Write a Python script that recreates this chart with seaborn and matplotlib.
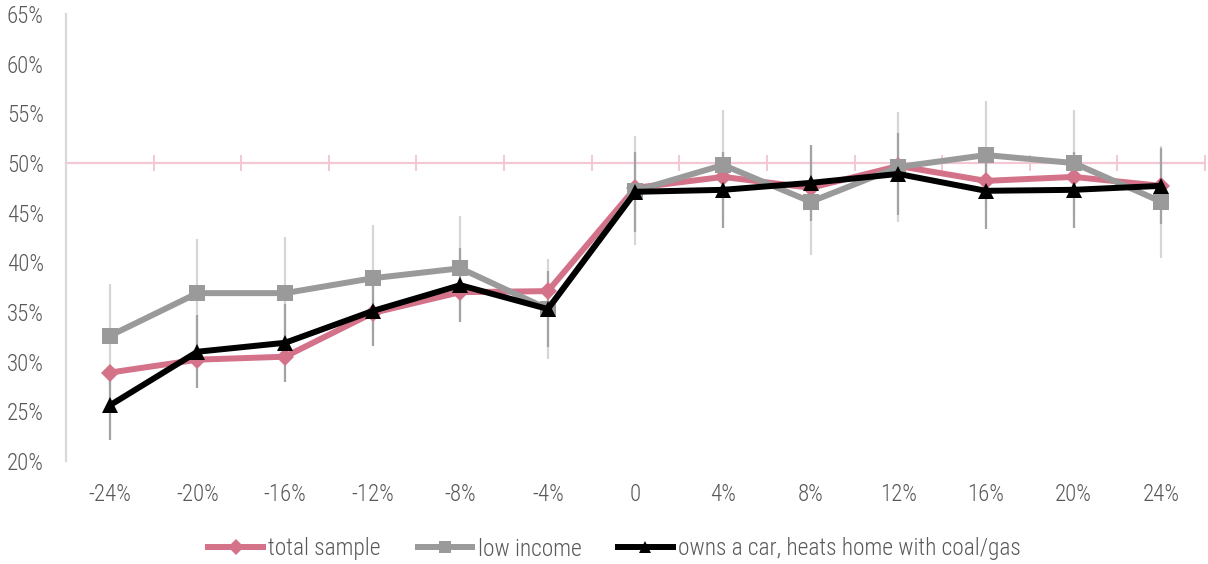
import numpy as np
import pandas as pd
import matplotlib
matplotlib.use("Agg")
import matplotlib.pyplot as plt
from matplotlib.lines import Line2D
from matplotlib.ticker import FixedLocator, FuncFormatter
import seaborn as sns

# ---- data -------------------------------------------------------------
x_labels = ['-24%', '-20%', '-16%', '-12%', '-8%', '-4%', '0',
            '4%', '8%', '12%', '16%', '20%', '24%']

total_sample = [28.9, 30.2, 30.5, 34.9, 37.0, 37.1, 47.5,
                48.6, 47.5, 49.7, 48.2, 48.6, 47.7]
low_income = [32.6, 36.9, 36.9, 38.4, 39.4, 35.3, 47.2,
              49.8, 46.1, 49.6, 50.8, 50.0, 46.1]
car_coal_gas = [25.6, 31.0, 31.9, 35.1, 37.7, 35.3, 47.1,
                47.3, 48.0, 48.9, 47.2, 47.3, 47.7]

low_income_err = [5.2, 5.4, 5.7, 5.4, 5.3, 5.05, 5.5,
                  5.5, 5.4, 5.5, 5.4, 5.3, 5.65]
car_coal_gas_err = [3.5, 3.7, 3.9, 3.5, 3.75, 3.8, 4.0,
                    3.8, 3.8, 4.1, 3.8, 3.8, 3.8]

series_names = ['total sample', 'low income',
                'owns a car, heats home with coal/gas']

# ---- style ------------------------------------------------------------
sns.set_style('white')
plt.rcParams['font.family'] = ['Roboto Condensed', 'Liberation Sans Narrow',
                               'Roboto', 'DejaVu Sans']
plt.rcParams['font.weight'] = 'light'
TEXT = '#595959'
PINK = '#d4728a'
GREY = '#9a9a9a'
BLACK = '#000000'
AXIS_PINK = '#f3c8d2'
AXIS_GREY = '#d9d9d9'

pos = np.arange(len(x_labels))
df = pd.DataFrame({
    'pos': np.tile(pos, 3),
    'value': np.concatenate([total_sample, low_income, car_coal_gas]),
    'series': np.repeat(series_names, len(pos)),
})

W, H = 1208, 564
fig = plt.figure(figsize=(W / 100, H / 100), dpi=100)
ax = fig.add_axes([66 / W, 1 - 461 / H, (1205 - 66) / W, (461 - 14) / H])

# confidence whiskers
ax.errorbar(pos, low_income, yerr=low_income_err, fmt='none',
            ecolor='#d6d6d6', elinewidth=1.6, capsize=0, zorder=1.5)
ax.errorbar(pos, car_coal_gas, yerr=car_coal_gas_err, fmt='none',
            ecolor='#a3a3a3', elinewidth=1.6, capsize=0, zorder=1.6)

styles = {
    'total sample': dict(color=PINK, marker='D', ms=9),
    'low income': dict(color=GREY, marker='s', ms=11),
    'owns a car, heats home with coal/gas': dict(color=BLACK, marker='^', ms=11),
}
for name in series_names:
    st = styles[name]
    sns.lineplot(data=df[df['series'] == name], x='pos', y='value', ax=ax,
                 color=st['color'], marker=st['marker'], markersize=st['ms'],
                 markeredgewidth=0, linewidth=4.3, legend=False, zorder=3)

# axes
ax.set_xlim(-0.5, len(x_labels) - 0.5)
ax.set_ylim(20, 65)
ax.set_xlabel('')
ax.set_ylabel('')
ax.yaxis.set_major_locator(FixedLocator(np.arange(20, 66, 5)))
ax.yaxis.set_major_formatter(FuncFormatter(lambda v, p: f'{v:.0f}%'))
ax.set_xticks(pos)
ax.set_xticklabels(x_labels)
for side in ('top', 'right', 'bottom'):
    ax.spines[side].set_visible(False)
ax.spines['left'].set_color(AXIS_GREY)
ax.spines['left'].set_linewidth(1.6)
ax.tick_params(axis='y', direction='out', length=6, width=1.4,
               color=AXIS_GREY, labelcolor=TEXT, labelsize=16.5, pad=10)
ax.tick_params(axis='x', length=0, labelcolor=TEXT, labelsize=16.5, pad=16)

# horizontal category axis crossing at 50%
cross = (50 - 20) / (65 - 20)
ax2 = ax.secondary_xaxis(cross)
ax2.set_xticks(np.arange(-0.5, len(x_labels), 1.0))
ax2.set_xticklabels([])
ax2.tick_params(axis='x', direction='inout', length=12, width=1.4,
                color=AXIS_PINK)
for sp in ax2.spines.values():
    sp.set_color(AXIS_PINK)
    sp.set_linewidth(1.6)

# legend
handles = [Line2D([], [], color=styles[n]['color'], marker=styles[n]['marker'],
                  markersize=styles[n]['ms'] * 0.85, markeredgewidth=0,
                  linewidth=4.3, solid_capstyle='butt') for n in series_names]
leg = fig.legend(handles, series_names, loc='center',
                 bbox_to_anchor=(613 / W, 1 - 549 / H), ncol=3, frameon=False,
                 fontsize=16.8, handlelength=2.6, handletextpad=0.1,
                 columnspacing=1.45)
for t in leg.get_texts():
    t.set_color(TEXT)

fig.savefig('out.png', dpi=100)
